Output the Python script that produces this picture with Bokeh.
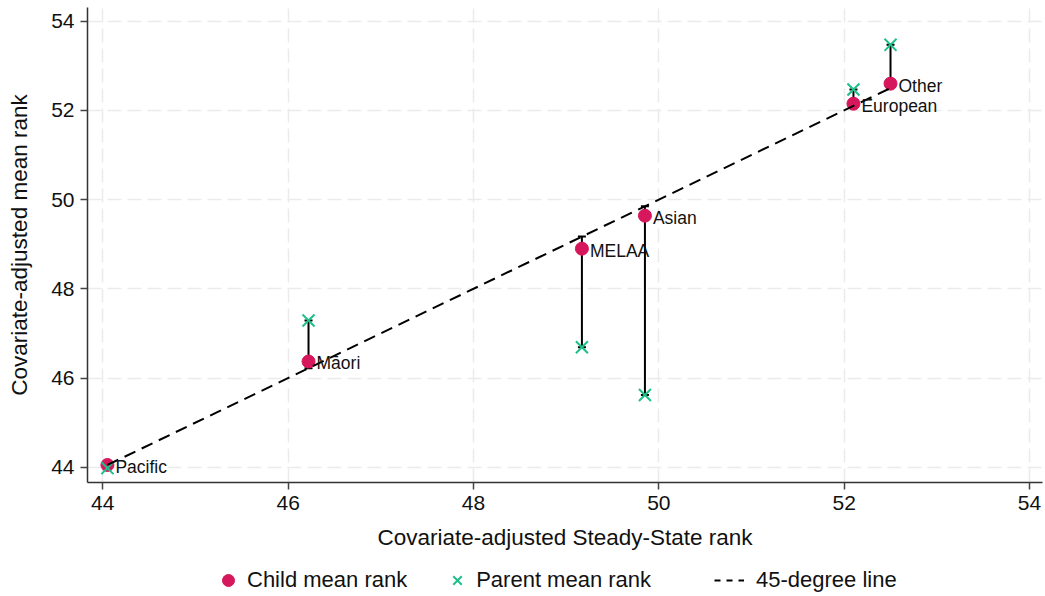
from bokeh.plotting import figure
from bokeh.layouts import column
from bokeh.models import (ColumnDataSource, Whisker, TeeHead, Legend, LegendItem,
                          Range1d, FixedTicker, LabelSet)
from bokeh.core.properties import value
from bokeh.embed import file_html
from bokeh.resources import INLINE

# ---- data ----
groups = ["Pacific", "Māori", "MELAA", "Asian", "European", "Other"]
steady_state = [44.05, 46.22, 49.17, 49.85, 52.10, 52.50]
child_rank = [44.05, 46.37, 48.90, 49.64, 52.15, 52.60]
parent_rank = [43.98, 47.29, 46.69, 45.62, 52.47, 53.47]
ticks = [44, 46, 48, 50, 52, 54]
legend_labels = ["Child mean rank", "Parent mean rank", "45-degree line"]

FONT = "Liberation Sans"
CHILD_COLOR = "#d6175b"
PARENT_COLOR = "#1ec08a"

src = ColumnDataSource(dict(g=groups, x=steady_state, child=child_rank, parent=parent_rank))
diag = ColumnDataSource(dict(x=[min(steady_state), max(steady_state)],
                             y=[min(steady_state), max(steady_state)]))

p = figure(width=1044, height=552, output_backend="svg", toolbar_location=None,
           x_range=Range1d(43.835, 54.140), y_range=Range1d(43.657, 54.307),
           min_border_left=87, min_border_right=2, min_border_top=7, min_border_bottom=70)
p.outline_line_color = None
p.background_fill_color = "white"
p.border_fill_color = "white"

for ax in (p.xaxis[0], p.yaxis[0]):
    ax.ticker = FixedTicker(ticks=ticks)
    ax.minor_tick_line_color = None
    ax.major_tick_in = 0
    ax.major_tick_out = 7
    ax.major_tick_line_color = "#444444"
    ax.major_tick_line_width = 1.5
    ax.axis_line_color = "#333333"
    ax.axis_line_width = 1.5
    ax.major_label_text_font = FONT
    ax.major_label_text_font_size = "21px"
    ax.major_label_text_color = "#111111"
    ax.axis_label_text_font = FONT
    ax.axis_label_text_font_size = "22.5px"
    ax.axis_label_text_font_style = "normal"
    ax.axis_label_text_color = "#111111"
    ax.major_label_standoff = 6

p.xaxis.axis_label = "Covariate-adjusted Steady-State rank"
p.yaxis.axis_label = "Covariate-adjusted mean rank"
p.xaxis.axis_label_standoff = 12
p.yaxis.axis_label_standoff = 16

for g in (p.xgrid[0], p.ygrid[0]):
    g.ticker = FixedTicker(ticks=ticks)
    g.grid_line_color = "#ebebeb"
    g.grid_line_width = 1.5
    g.grid_line_dash = "14 6"

# range caps from parent rank to steady-state rank
wh = Whisker(source=src, base="x", lower="parent", upper="x", dimension="height",
             line_color="black", line_width=2,
             lower_head=TeeHead(size=8, line_color="black", line_width=2),
             upper_head=TeeHead(size=8, line_color="black", line_width=2))
p.add_layout(wh)

p.scatter("x", "child", source=src, marker="circle", size=13,
          fill_color=CHILD_COLOR, line_color=CHILD_COLOR)
p.scatter("x", "parent", source=src, marker="x", size=17,
          line_color=PARENT_COLOR, line_width=2)
p.line("x", "y", source=diag, line_color="black", line_width=2, line_dash="12 7")

labels = LabelSet(x="x", y="child", text="g", source=src, x_offset=8, y_offset=-2,
                  text_font=value(FONT), text_font_size="17.5px", text_baseline="middle",
                  text_color="#111111")
p.add_layout(labels)

# ---- legend strip (its renderers lie outside its own ranges, only the key shows) ----
lf = figure(width=1044, height=44, output_backend="svg", toolbar_location=None,
            x_range=Range1d(0, 1), y_range=Range1d(0, 1),
            x_axis_type=None, y_axis_type=None,
            min_border_left=0, min_border_right=0, min_border_top=0, min_border_bottom=0)
lf.outline_line_color = None
lf.grid.visible = False
lc = lf.scatter("x", "child", source=src, marker="circle", size=13,
                fill_color=CHILD_COLOR, line_color=CHILD_COLOR)
lp = lf.scatter("x", "parent", source=src, marker="x", size=15,
                line_color=PARENT_COLOR, line_width=2)
ll = lf.line("x", "y", source=diag, line_color="black", line_width=2, line_dash="6 6")

common = dict(orientation="horizontal", glyph_width=30, glyph_height=32,
              padding=0, margin=0, border_line_color=None, background_fill_alpha=0,
              label_text_font=FONT, label_text_font_size="22px", label_text_color="#111111")
leg1 = Legend(items=[LegendItem(label=legend_labels[0], renderers=[lc]),
                     LegendItem(label=legend_labels[1], renderers=[lp])],
              location=(126, 0), label_standoff=4, spacing=35, **common)
leg2 = Legend(items=[LegendItem(label=legend_labels[2], renderers=[ll])],
              location=(627, 0), label_standoff=12, spacing=0, **common)
lf.add_layout(leg1, "center")
lf.add_layout(leg2, "center")

layout = column(p, lf, spacing=0)
open("out.html", "w").write(file_html(layout, INLINE))
